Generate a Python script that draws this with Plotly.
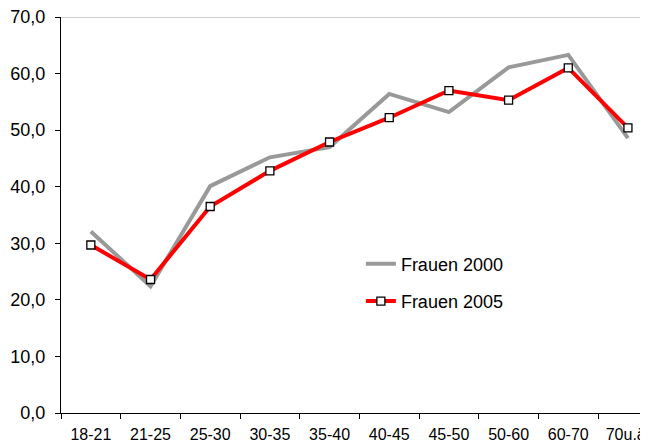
import plotly.graph_objects as go

categories = ["18-21", "21-25", "25-30", "30-35", "35-40", "40-45", "45-50", "50-60", "60-70", "70u.ä."]
frauen_2000 = [32.1, 22.4, 40.1, 45.2, 47.0, 56.4, 53.2, 61.1, 63.3, 48.6]
frauen_2005 = [29.7, 23.6, 36.5, 42.8, 47.9, 52.2, 57.0, 55.3, 61.0, 50.4]
y_ticks = [0, 10, 20, 30, 40, 50, 60, 70]

FONT = "Liberation Sans, Arial, sans-serif"

fig = go.Figure()
fig.add_trace(go.Scatter(
    x=categories, y=frauen_2000, name="Frauen 2000", mode="lines",
    line=dict(color="#999999", width=4), legendgroup="a",
))
fig.add_trace(go.Scatter(
    x=categories, y=frauen_2005, name="Frauen 2005", mode="lines+markers",
    line=dict(color="#ff0000", width=4),
    marker=dict(symbol="square", size=8, color="white", line=dict(color="black", width=1.3)),
    legendgroup="b",
))

fig.update_layout(
    width=648, height=443,
    margin=dict(l=53, r=0, t=9, b=38),
    paper_bgcolor="white", plot_bgcolor="white",
    separators=",.",
    font=dict(family=FONT, color="black"),
    showlegend=True,
    legend=dict(
        x=0.504, y=0.423, xanchor="left", yanchor="top",
        font=dict(family=FONT, size=18, color="black"),
        tracegroupgap=11, bgcolor="rgba(0,0,0,0)", borderwidth=0,
    ),
    xaxis=dict(
        type="category", range=[-0.5, 9.47],
        showline=True, linecolor="black", linewidth=1,
        ticks="outside", ticklen=5, tickcolor="black", tickson="boundaries",
        showgrid=False, tickfont=dict(family=FONT, size=16), automargin=False,
        ticklabelstandoff=7, ticklabeloverflow="allow",
    ),
    yaxis=dict(
        range=[0, 70], tickvals=y_ticks, tickformat=".1f",
        showline=True, linecolor="black", linewidth=1,
        ticks="outside", ticklen=5, tickcolor="black",
        showgrid=False, zeroline=False, tickfont=dict(family=FONT, size=18),
        ticklabelstandoff=6, automargin=False, ticklabeloverflow="allow",
    ),
    shapes=[dict(type="line", xref="paper", yref="y", x0=0, x1=1, y0=70, y1=70,
                 line=dict(color="#999999", width=1), layer="below")],
)

fig.write_html("out.html")
